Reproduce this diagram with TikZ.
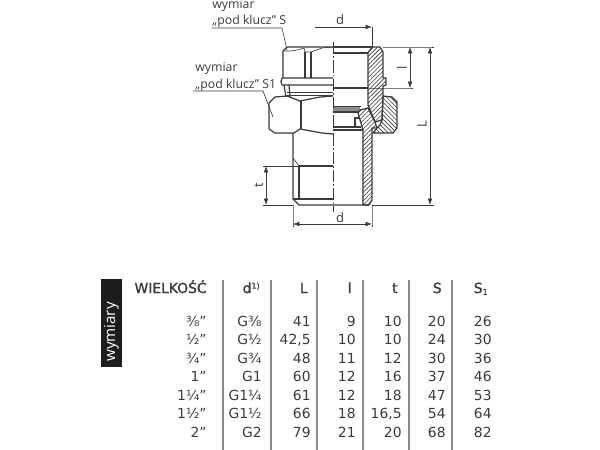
\documentclass[tikz,border=0pt]{standalone}
\usepackage{fontspec}
\setmainfont{DejaVu Sans}
\newfontfamily\labelfont{Open Sans}
\newfontfamily\headfont[FakeBold=1.4]{DejaVu Sans}
\usepackage{xcolor}
\usetikzlibrary{patterns.meta, arrows.meta}
\definecolor{inkgrey}{HTML}{3A3A3A}
\definecolor{rulegrey}{HTML}{8C8C8C}
\definecolor{boxblack}{HTML}{1D1D1B}
\tikzset{
    outline/.style={draw=inkgrey, line width=0.7pt, line join=round},
    fineline/.style={draw=inkgrey, line width=0.35pt},
    dimline/.style={draw=inkgrey, line width=0.35pt, {Latex[length=3.6pt,width=2.6pt]}-{Latex[length=3.6pt,width=2.6pt]}},
    hatchup/.style={outline, pattern={Lines[angle=45,distance=1.7pt,line width=0.35pt]}, pattern color=inkgrey},
    hatchdown/.style={outline, pattern={Lines[angle=-45,distance=1.7pt,line width=0.35pt]}, pattern color=inkgrey},
    tablerule/.style={draw=rulegrey, line width=0.7pt},
    drawlabel/.style={text=inkgrey, inner sep=0pt, font=\labelfont\fontsize{7}{8}\selectfont},
    dimlabel/.style={text=inkgrey, inner sep=0pt, font=\labelfont\fontsize{7.4}{8}\selectfont},
    head/.style={text=inkgrey, inner sep=0pt, anchor=base east, font=\headfont\fontsize{7.9}{9}\selectfont},
    cell/.style={text=inkgrey, inner sep=0pt, anchor=base east, font=\fontsize{7.9}{9}\selectfont}
}
\begin{document}
\begin{tikzpicture}[x=0.02cm, y=-0.02cm]
        \useasboundingbox (0, 0) rectangle (600, 450);

        \draw[outline] (333, 47) -- (287, 47) -- (283, 51) -- (283, 78);
        \draw[outline] (333, 47) -- (372, 47);
        \draw[fineline] (284, 51) to[bend right=10] (304, 48) -- (305, 52) -- (311, 52) -- (322, 48) -- (333, 47);
        \draw[outline] (305, 52) -- (305, 78);
        \draw[outline] (311, 52) -- (311, 78);
        \draw[outline] (333, 78) -- (282, 78) to[bend right=30] (282, 85) -- (333, 85);
        \draw[outline] (284, 85) -- (286, 97);
        \draw[outline] (289, 85) -- (290, 97);
        \draw[fineline] (287, 92) -- (333, 92);
        \draw[fineline] (287, 95) -- (333, 95);
        \draw[outline] (333, 53) -- (368, 53) (333, 88) -- (368, 88);

        \draw[outline] (333, 96) -- (320, 97) -- (300, 101) -- (287, 96) -- (275, 97) -- (269, 103) -- (269, 129) -- (275, 133) -- (294, 133) -- (300, 129) -- (322, 133) -- (333, 134);
        \draw[outline] (301, 101) -- (301, 129);

        \fill[rulegrey] (333, 107) rectangle (360, 112);
        \draw[outline] (333, 106.5) -- (361, 106.5);
        \draw[outline] (333, 112) -- (358, 112);
        \draw[outline] (333, 127) -- (361, 127);
        \draw[outline] (333, 130) -- (363, 130);

        \draw[outline] (293, 133) -- (293, 199) -- (299, 205) -- (369, 205);
        \draw[outline] (299, 166) -- (299, 199);
        \draw[outline] (299, 166) -- (333, 166);
        \draw[outline] (299, 199) -- (333, 199);
        \draw[outline] (293, 199) -- (299, 199);
        \draw[fineline] (293, 158) -- (299, 166);

        \draw[hatchup] (372, 47) -- (380, 47) -- (383, 52) -- (383, 78) -- (386, 78) -- (386, 85) -- (383, 86) -- (383, 97) -- (382, 120) -- (375, 122) -- (368, 105) -- (368, 53) -- cycle;
        \draw[hatchdown] (383, 96) -- (392, 97) -- (397, 102) -- (397, 128) -- (393, 133) -- (373, 133) -- (377, 128) -- (380, 125) -- (382, 120) -- cycle;
        \draw[hatchup] (358, 113) -- (360, 110) -- (368, 108) -- (375, 122) -- (377, 128) -- (372, 128) -- (372, 200) -- (369, 205) -- (363, 205) -- (363, 130) -- cycle;
        \draw[outline] (360, 118) -- (355, 118) -- (355, 127) -- (361, 127);

        \draw[fineline, dash pattern=on 7pt off 1.2pt on 1pt off 1.2pt] (333, 42) -- (333, 212);

        \coordinate (topdL) at (315, 27);
        \coordinate (topdR) at (372, 27);
        \coordinate (topdF) at (372, 47);
        \coordinate (ltop) at (410, 47);
        \coordinate (lbot) at (410, 88);
        \coordinate (Ltop) at (430, 47);
        \coordinate (Lbot) at (430, 205);
        \coordinate (Lend) at (434, 205);
        \coordinate (ttop) at (266, 166);
        \coordinate (tbot) at (266, 205);
        \coordinate (dL) at (293, 224);
        \coordinate (dR) at (372, 224);
        \coordinate (dLf) at (293, 205);
        \coordinate (dRf) at (372, 205);
        \coordinate (lineS0) at (212, 28);
        \coordinate (lineS1) at (282, 28);
        \coordinate (lineS2) at (287, 50);
        \coordinate (lineT0) at (193, 91);
        \coordinate (lineT1) at (263, 91);
        \coordinate (lineT2) at (273, 117);

        \draw[fineline, -{Latex[length=3.6pt,width=2.6pt]}] (topdL) -- (topdR);
        \draw[fineline] (topdR) -- (topdF);
        \draw[dimline] (ltop) -- (lbot);
        \draw[dimline] (Ltop) -- (Lbot);
        \draw[dimline] (ttop) -- (tbot);
        \draw[dimline] (dL) -- (dR);
        \draw[fineline] (dLf) -- (dL) -- ++(0, 3);
        \draw[fineline] (dRf) -- (dR) -- ++(0, 3);
        \draw[fineline] (383, 47) -- (Ltop) -- ++(4, 0);
        \draw[fineline] (369, 88) -- (lbot) -- ++(3, 0);
        \draw[fineline] (372, 205) -- (Lend);
        \draw[fineline] (ttop) -- ++(-3, 0);
        \draw[fineline] (ttop) -- (299, 166);
        \draw[fineline] (tbot) -- ++(-3, 0);
        \draw[fineline] (tbot) -- (293, 205);
        \draw[fineline] (lineS0) -- (lineS1) -- (lineS2);
        \draw[fineline] (lineT0) -- (lineT1) -- (lineT2);

        \node[drawlabel, anchor=west] (wymS) at (212, 5) {wymiar};
        \node[drawlabel, anchor=west] (kluczS) at (212, 21) {„pod klucz” S};
        \node[drawlabel, anchor=west] (wymT) at (195, 68) {wymiar};
        \node[drawlabel, anchor=west] (kluczT) at (195, 85) {„pod klucz” S1};
        \node[dimlabel] (dtop) at (340, 20) {d};
        \node[dimlabel] (dbot) at (340, 218) {d};
        \node[dimlabel, rotate=90] (lsmall) at (402, 68) {l};
        \node[dimlabel, rotate=90] (Lbig) at (422, 124) {L};
        \node[dimlabel, rotate=90] (tsmall) at (259, 185) {t};

        \fill[boxblack] (101, 279) rectangle (122, 367);
        \node[text=white, inner sep=0pt, rotate=90, font=\labelfont\fontsize{8.6}{9}\selectfont] (wymiary) at (111.5, 332) {wymiary};

        \draw[tablerule] (223, 280) -- (223, 450);
        \draw[tablerule] (271, 280) -- (271, 450);
        \draw[tablerule] (317, 280) -- (317, 450);
        \draw[tablerule] (363, 280) -- (363, 450);
        \draw[tablerule] (409, 280) -- (409, 450);
        \draw[tablerule] (452, 280) -- (452, 450);

        \node[head] (hsize) at (207, 293) {WIELKOŚĆ};
        \node[head] (hd) at (260, 293) {d\raisebox{2.5pt}{\fontsize{4.5}{5}\selectfont 1)}};
        \node[head] (hL) at (308, 293) {L};
        \node[head] (hl) at (352, 293) {l};
        \node[head] (ht) at (398, 293) {t};
        \node[head] (hS) at (442, 293) {S};
        \node[head] (hSa) at (488, 293) {S\raisebox{-1pt}{\fontsize{4.5}{5}\selectfont 1}};

        \node[cell] (a1) at (207, 326) {⅜”};
        \node[cell] (a2) at (207, 344) {½”};
        \node[cell] (a3) at (207, 363) {¾”};
        \node[cell] (a4) at (207, 381) {1”};
        \node[cell] (a5) at (207, 400) {1¼”};
        \node[cell] (a6) at (207, 418) {1½”};
        \node[cell] (a7) at (207, 437) {2”};

        \node[cell] (b1) at (262, 326) {G⅜};
        \node[cell] (b2) at (262, 344) {G½};
        \node[cell] (b3) at (262, 363) {G¾};
        \node[cell] (b4) at (262, 381) {G1};
        \node[cell] (b5) at (262, 400) {G1¼};
        \node[cell] (b6) at (262, 418) {G1½};
        \node[cell] (b7) at (262, 437) {G2};

        \node[cell] (c1) at (311, 326) {41};
        \node[cell] (c2) at (311, 344) {42,5};
        \node[cell] (c3) at (311, 363) {48};
        \node[cell] (c4) at (311, 381) {60};
        \node[cell] (c5) at (311, 400) {61};
        \node[cell] (c6) at (311, 418) {66};
        \node[cell] (c7) at (311, 437) {79};

        \node[cell] (e1) at (356, 326) {9};
        \node[cell] (e2) at (356, 344) {10};
        \node[cell] (e3) at (356, 363) {11};
        \node[cell] (e4) at (356, 381) {12};
        \node[cell] (e5) at (356, 400) {12};
        \node[cell] (e6) at (356, 418) {18};
        \node[cell] (e7) at (356, 437) {21};

        \node[cell] (f1) at (402, 326) {10};
        \node[cell] (f2) at (402, 344) {10};
        \node[cell] (f3) at (402, 363) {12};
        \node[cell] (f4) at (402, 381) {16};
        \node[cell] (f5) at (402, 400) {18};
        \node[cell] (f6) at (402, 418) {16,5};
        \node[cell] (f7) at (402, 437) {20};

        \node[cell] (g1) at (446, 326) {20};
        \node[cell] (g2) at (446, 344) {24};
        \node[cell] (g3) at (446, 363) {30};
        \node[cell] (g4) at (446, 381) {37};
        \node[cell] (g5) at (446, 400) {47};
        \node[cell] (g6) at (446, 418) {54};
        \node[cell] (g7) at (446, 437) {68};

        \node[cell] (h1) at (492, 326) {26};
        \node[cell] (h2) at (492, 344) {30};
        \node[cell] (h3) at (492, 363) {36};
        \node[cell] (h4) at (492, 381) {46};
        \node[cell] (h5) at (492, 400) {53};
        \node[cell] (h6) at (492, 418) {64};
        \node[cell] (h7) at (492, 437) {82};
\end{tikzpicture}
\end{document}
